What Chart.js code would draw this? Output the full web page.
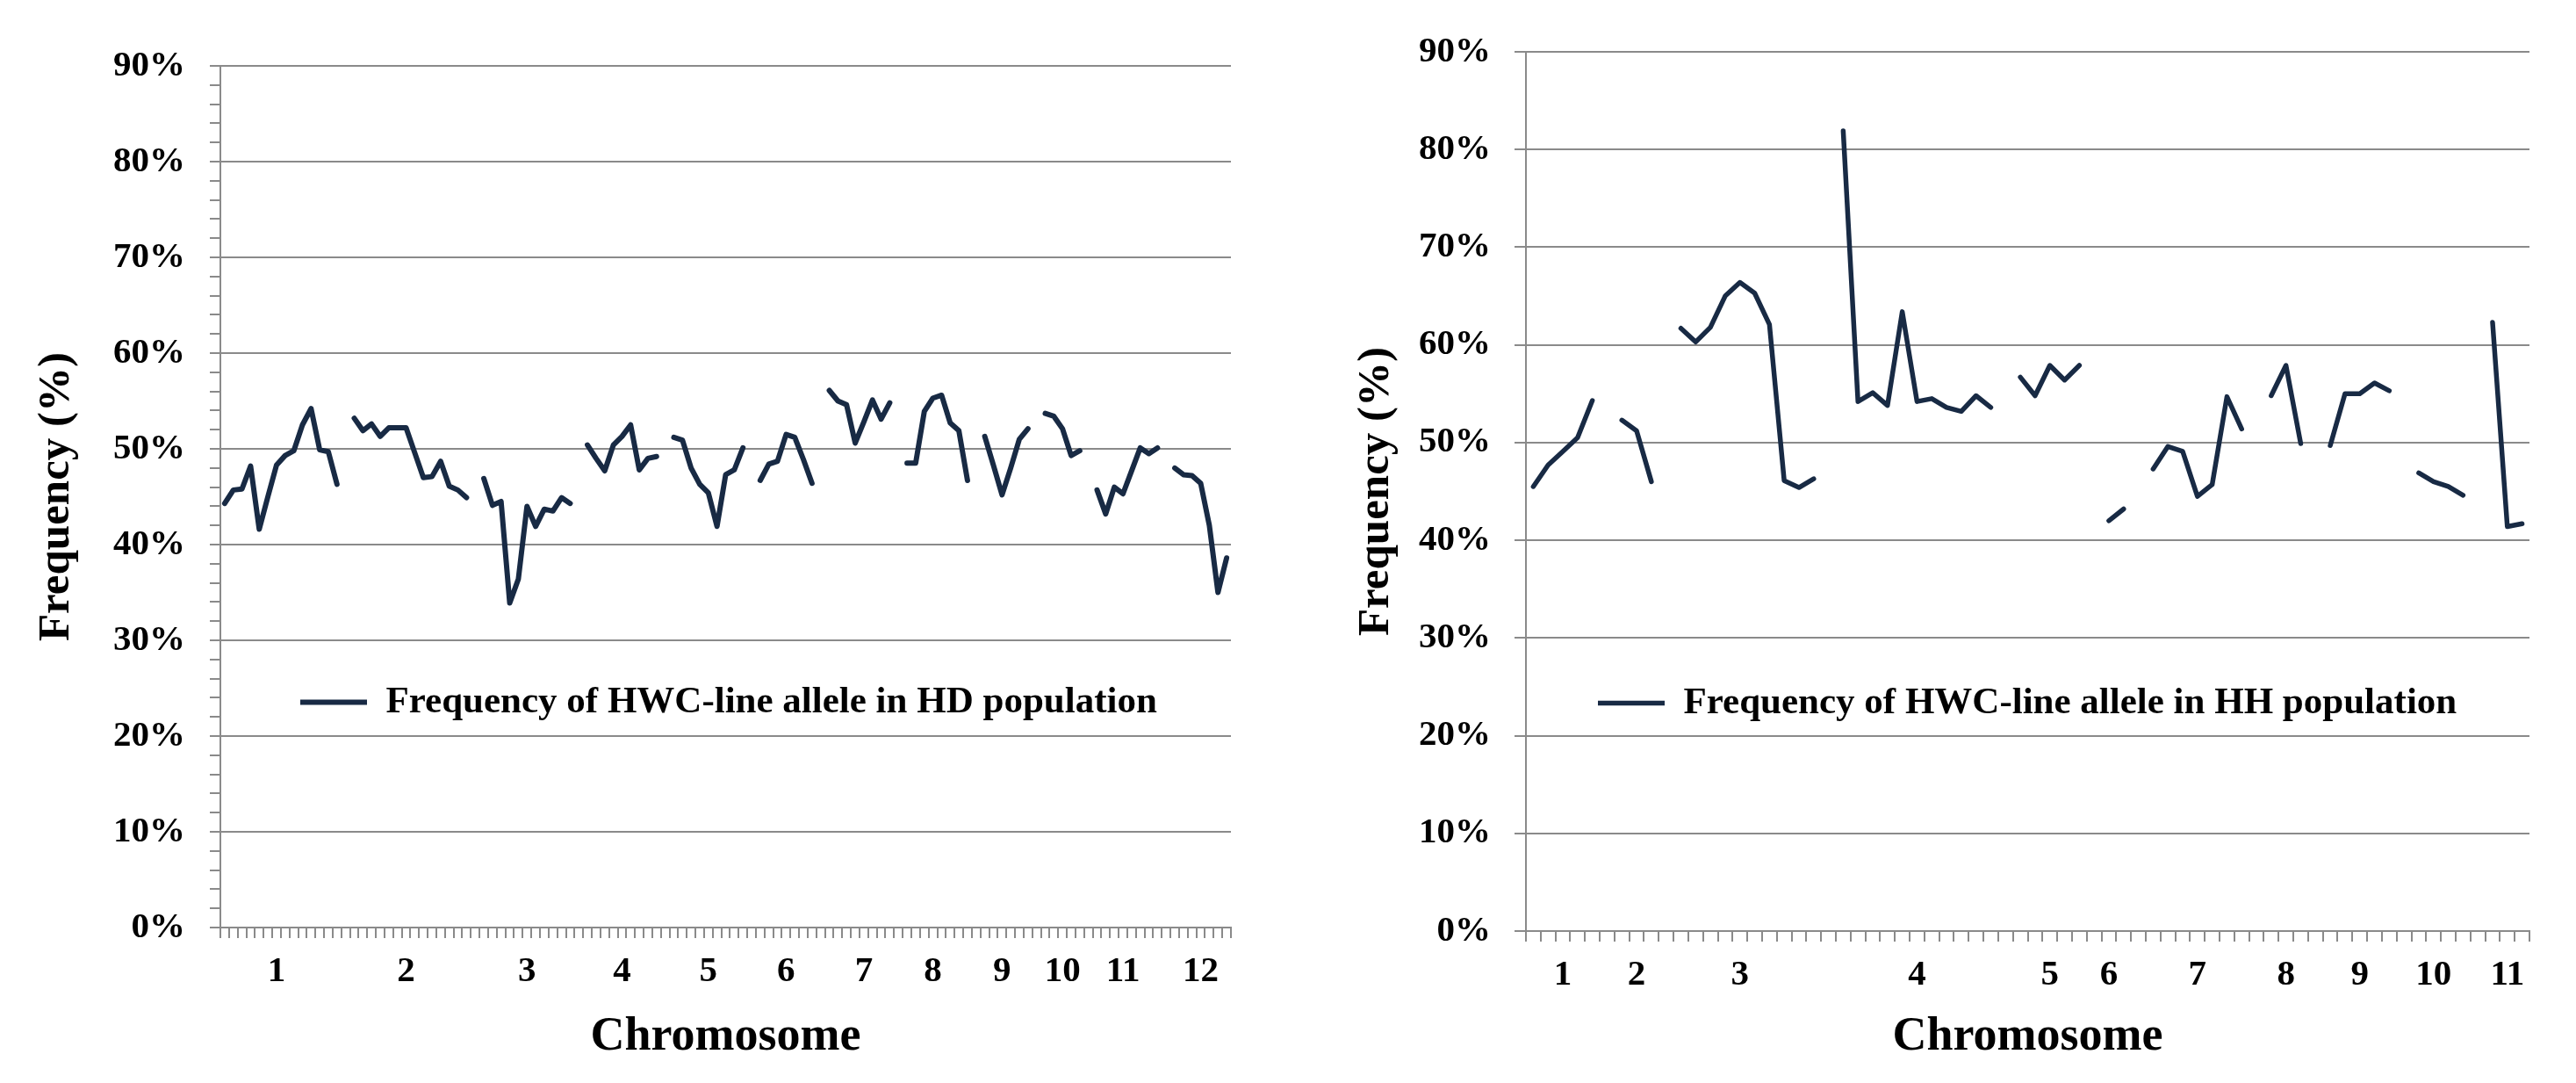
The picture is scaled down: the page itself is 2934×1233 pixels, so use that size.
<!DOCTYPE html>
<html>
<head>
<meta charset="utf-8">
<script src="https://cdn.jsdelivr.net/npm/chart.js@4.4.1/dist/chart.umd.min.js"></script>
<style>
  html, body { margin: 0; padding: 0; background: #fff; }
  #wrap { position: relative; width: 2934px; height: 1233px; }
  .panel { position: absolute; top: 0; width: 1467px; height: 1233px; }
</style>
</head>
<body>
<div id="wrap">
  <div class="panel" style="left:0"><canvas id="chart-hd" width="1467" height="1233"></canvas></div>
  <div class="panel" style="left:1467px"><canvas id="chart-hh" width="1467" height="1233"></canvas></div>
</div>
<script>
// HWC-line allele frequency along the chromosomes, HD and HH populations (%)
// null = break between chromosomes

const hdFrequency = [
  44.3, 45.7, 45.8, 48.2, 41.6, 45.0, 48.3, 49.3, 49.8, 52.5, 54.2, 49.9, 49.7, 46.3, null,   // chr 1
  53.2, 51.9, 52.6, 51.3, 52.2, 52.2, 52.2, 49.6, 47.0, 47.1, 48.7, 46.1, 45.7, 44.9, null,   // chr 2
  46.9, 44.1, 44.5, 33.9, 36.4, 44.0, 41.9, 43.7, 43.5, 44.9, 44.3, null,                     // chr 3
  50.4, 49.0, 47.7, 50.4, 51.3, 52.5, 47.8, 49.0, 49.2, null,                                 // chr 4
  51.2, 50.9, 48.0, 46.3, 45.4, 41.9, 47.3, 47.8, 50.1, null,                                 // chr 5
  46.7, 48.4, 48.7, 51.5, 51.2, 48.9, 46.4, null,                                             // chr 6
  56.1, 55.0, 54.6, 50.6, 52.8, 55.1, 53.1, 54.8, null,                                       // chr 7
  48.5, 48.5, 53.9, 55.3, 55.6, 52.7, 51.9, 46.7, null,                                       // chr 8
  51.3, 48.3, 45.2, 48.0, 51.0, 52.1, null,                                                   // chr 9
  53.7, 53.4, 52.1, 49.3, 49.8, null,                                                         // chr 10
  45.7, 43.2, 46.0, 45.3, 47.7, 50.1, 49.5, 50.1, null,                                       // chr 11
  48.0, 47.3, 47.2, 46.4, 42.0, 35.0, 38.6                                                    // chr 12
];
const hdTickLabels = ['1', '2', '3', '4', '5', '6', '7', '8', '9', '10', '11', '12'];
const hdTickIndex  = [6, 21, 35, 46, 56, 65, 74, 82, 90, 97, 104, 113];

const hhFrequency = [
  45.5, 47.7, 49.1, 50.5, 54.3, null,                                   // chr 1
  52.3, 51.2, 46.0, null,                                               // chr 2
  61.7, 60.3, 61.8, 65.0, 66.4, 65.3, 62.1, 46.1, 45.4, 46.3, null,     // chr 3
  81.9, 54.2, 55.1, 53.8, 63.4, 54.2, 54.5, 53.6, 53.2, 54.8, 53.6, null, // chr 4
  56.7, 54.8, 57.9, 56.4, 57.9, null,                                   // chr 5
  42.0, 43.2, null,                                                     // chr 6
  47.3, 49.6, 49.1, 44.5, 45.7, 54.7, 51.4, null,                       // chr 7
  54.8, 57.9, 49.9, null,                                               // chr 8
  49.7, 55.0, 55.0, 56.1, 55.3, null,                                   // chr 9
  46.9, 46.0, 45.5, 44.6, null,                                         // chr 10
  62.3, 41.4, 41.7                                                      // chr 11
];
const hhTickLabels = ['1', '2', '3', '4', '5', '6', '7', '8', '9', '10', '11'];
const hhTickIndex  = [2, 7, 14, 26, 35, 39, 45, 51, 56, 61, 66];

const yTicks = [0, 10, 20, 30, 40, 50, 60, 70, 80, 90];

const LINE = '#182a44';
const GRID = '#8a8a8a';
const SERIF = "'Liberation Serif', 'Times New Roman', serif";

// puts the legend inside the plot, where the original has it
const legendSpot = {
  id: 'legendSpot',
  afterLayout(chart, args, o) {
    const lg = chart.legend;
    if (!lg) return;
    const w = lg.width, h = lg.height;
    lg.left = o.x; lg.top = o.y;
    lg.right = o.x + w; lg.bottom = o.y + h;
  }
};

function buildChart(id, cfg) {
  const categories = cfg.values.map((v, i) => {
    const k = cfg.tickIndex.indexOf(i);
    return k >= 0 ? cfg.tickLabels[k] : '';
  });

  return new Chart(document.getElementById(id), {
    type: 'line',
    data: {
      labels: categories,
      datasets: [{
        label: cfg.legend,
        data: cfg.values,
        borderColor: LINE,
        backgroundColor: LINE,
        borderWidth: cfg.lineWidth,
        pointRadius: 0,
        pointHoverRadius: 0,
        spanGaps: false,
        tension: 0,
        borderJoinStyle: 'round',
        borderCapStyle: 'round'
      }]
    },
    options: {
      responsive: false,
      animation: false,
      devicePixelRatio: 1,
      layout: { padding: { left: 0, top: cfg.top, right: cfg.right, bottom: 0 } },
      plugins: {
        tooltip: { enabled: false },
        legend: {
          position: 'chartArea',
          align: 'start',
          labels: {
            usePointStyle: true,
            pointStyle: 'line',
            pointStyleWidth: 76,
            padding: 10,
            color: '#000',
            font: { family: SERIF, size: 43, weight: 'bold' }
          }
        },
        legendSpot: { x: cfg.legendX, y: cfg.legendY }
      },
      scales: {
        x: {
          type: 'category',
          offset: true,
          grid: {
            offset: true,
            drawOnChartArea: false,
            drawTicks: true,
            tickLength: 12,
            color: GRID,
            tickColor: GRID,
            lineWidth: 2
          },
          border: { color: GRID, width: 2 },
          ticks: {
            autoSkip: false,
            maxRotation: 0,
            minRotation: 0,
            padding: 14,
            color: '#000',
            font: { family: SERIF, size: 41, weight: 'bold' }
          },
          title: {
            display: true,
            text: 'Chromosome',
            color: '#000',
            font: { family: SERIF, size: 54, weight: 'bold' },
            padding: { top: 0, bottom: 20 }
          },
          afterFit: s => { s.height = cfg.xAxisHeight; }
        },
        y: {
          min: 0,
          max: 90,
          ticks: {
            stepSize: cfg.yStep,
            autoSkip: false,
            padding: cfg.yLabelPad,
            color: '#000',
            font: { family: SERIF, size: 41, weight: 'bold' },
            callback: v => yTicks.includes(v) ? v + '%' : ''
          },
          grid: {
            color: c => (c.tick && yTicks.includes(c.tick.value)) ? GRID : 'rgba(0,0,0,0)',
            tickColor: GRID,
            tickLength: cfg.yTickLen,
            lineWidth: 2
          },
          border: { color: GRID, width: 2 },
          title: {
            display: true,
            text: 'Frequency (%)',
            color: '#000',
            font: { family: SERIF, size: 51, weight: 'bold' },
            padding: { top: cfg.yTitlePad, bottom: 0 }
          },
          afterFit: s => { s.width = cfg.yAxisWidth; }
        }
      }
    },
    plugins: [legendSpot]
  });
}

buildChart('chart-hd', {
  values: hdFrequency,
  tickLabels: hdTickLabels,
  tickIndex: hdTickIndex,
  legend: 'Frequency of HWC-line allele in HD population',
  lineWidth: 6,
  yStep: 2,
  top: 75,
  right: 65,
  xAxisHeight: 177,
  yAxisWidth: 251,
  yLabelPad: 28,
  yTickLen: 12,
  yTitlePad: 34,
  legendX: 332,
  legendY: 768
});

buildChart('chart-hh', {
  values: hhFrequency,
  tickLabels: hhTickLabels,
  tickIndex: hhTickIndex,
  legend: 'Frequency of HWC-line allele in HH population',
  lineWidth: 5.5,
  yStep: 10,
  top: 59,
  right: 53,
  xAxisHeight: 173,
  yAxisWidth: 271,
  yLabelPad: 27,
  yTickLen: 13,
  yTitlePad: 70,
  legendX: 343,
  legendY: 769
});
</script>
</body>
</html>
